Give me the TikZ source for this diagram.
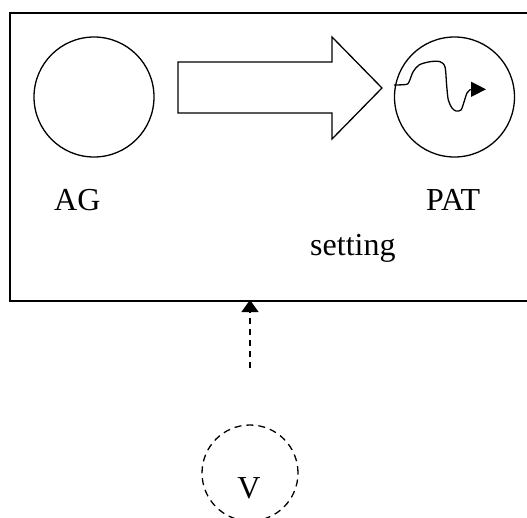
\documentclass[tikz,border=0pt]{standalone}
\usepackage{fontspec}
\setmainfont{Liberation Serif}
\usetikzlibrary{arrows.meta}
\begin{document}
\begin{tikzpicture}[x=1pt,y=-1pt,
  ring/.style={draw, circle, line width=1.3pt, minimum size=120pt, inner sep=0pt},
  caption/.style={anchor=base west, inner sep=0pt, font=\fontsize{32}{38}\selectfont},
  outline/.style={line width=1.3pt, line join=miter}]
\useasboundingbox (0,0) rectangle (527,517);

% enclosing frame (its right side runs past the edge)
\draw[line width=2pt] (10,13) rectangle (532,301);
\coordinate (frameIn) at (250,300);

% the two discs
\node[ring] (AG) at (94,97) {};
\node[ring] (PAT) at (454.5,97) {};

% block arrow between them
\draw[outline] (178,62) -- (332,62) -- (332,37) -- (382,88) -- (332,139)
  -- (332,113) -- (178,113) -- cycle;

% trace inside PAT
\draw[line width=1.3pt, line join=round] plot[smooth, tension=0.5] coordinates {
  (394,85) (406,84.5) (409,82) (413,72) (419,65) (430,61.7) (440,61.7)
  (445,67) (446.7,86) (448.3,100) (452,108) (456,111) (461,110) (464,102)
  (467,93) (470.7,89.3)};
\draw[line width=1.3pt, -{Triangle[length=15pt,width=15pt]}] (470.7,89.3) -- (486,89.3);

% labels
\node[caption] (agLabel) at (54,210) {AG};
\node[caption] (patLabel) at (426,210) {PAT};
\node[caption] (setLabel) at (310,255) {setting};

% dashed source disc and its link to the frame
\node[draw, circle, line width=1.3pt, minimum size=96pt, inner sep=0pt,
      dash pattern=on 7pt off 5pt] (V) at (250,473) {};
\node[caption, anchor=base] (vLabel) at (249,498) {V};
\coordinate (vTop) at (250,368);
\draw[line width=1.3pt, dash pattern=on 6pt off 5pt,
      -{Triangle[length=12pt,width=17pt]}] (vTop) -- (frameIn);
\end{tikzpicture}
\end{document}
